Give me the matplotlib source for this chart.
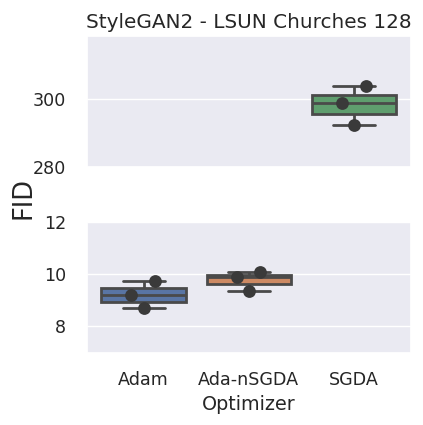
import numpy as np
import pandas as pd
import matplotlib
matplotlib.use("Agg")
import matplotlib.pyplot as plt
import seaborn as sns

# data (3 runs per optimizer)
optimizers = ["Adam", "Ada-nSGDA", "SGDA"]
fid_adam = [9.72, 9.19, 8.69]
fid_ada_nsgda = [10.06, 9.87, 9.34]
fid_sgda = [303.9, 298.7, 292.4]
jitter = [0.11, -0.115, 0.0]

df = pd.DataFrame({
    "Optimizer": np.repeat(optimizers, 3),
    "FID": fid_adam + fid_ada_nsgda + fid_sgda,
})

sns.set_theme(style="darkgrid", context="notebook", font_scale=1.15)
plt.rcParams["xtick.major.pad"] = 7.5
plt.rcParams["ytick.major.pad"] = 9

fig, (ax_top, ax_bot) = plt.subplots(2, 1, figsize=(4.23, 4.25), dpi=100, sharex=True)
fig.subplots_adjust(left=0.205, right=0.9716, top=1 - 36 / 425, bottom=72.3 / 425,
                    hspace=0.414)

for ax in (ax_top, ax_bot):
    sns.boxplot(data=df, x="Optimizer", y="FID", hue="Optimizer", palette="deep",
                legend=False, ax=ax, showfliers=False, linewidth=2,
                linecolor="#4a4a4a")
    for i, name in enumerate(optimizers):
        vals = df.loc[df["Optimizer"] == name, "FID"].values
        ax.scatter(i + np.array(jitter), vals, s=85, color="#3a3a3a", zorder=4,
                   linewidths=0)
    ax.set_ylabel("")

ax_top.set_ylim(280, 318.5)
ax_top.set_yticks([280, 300])
ax_top.set_xlabel("")
ax_top.tick_params(axis="x", labelbottom=False)
ax_top.set_title("StyleGAN2 - LSUN Churches 128", fontsize=14.4)

ax_bot.set_ylim(7, 12)
ax_bot.set_yticks([8, 10, 12])
ax_bot.set_xlabel("Optimizer", labelpad=4)

fig.text(0.056, 0.534, "FID", rotation=90, fontsize=18.5, va="center", ha="center",
         color="#262626")

plt.savefig("out.png", dpi=100)
